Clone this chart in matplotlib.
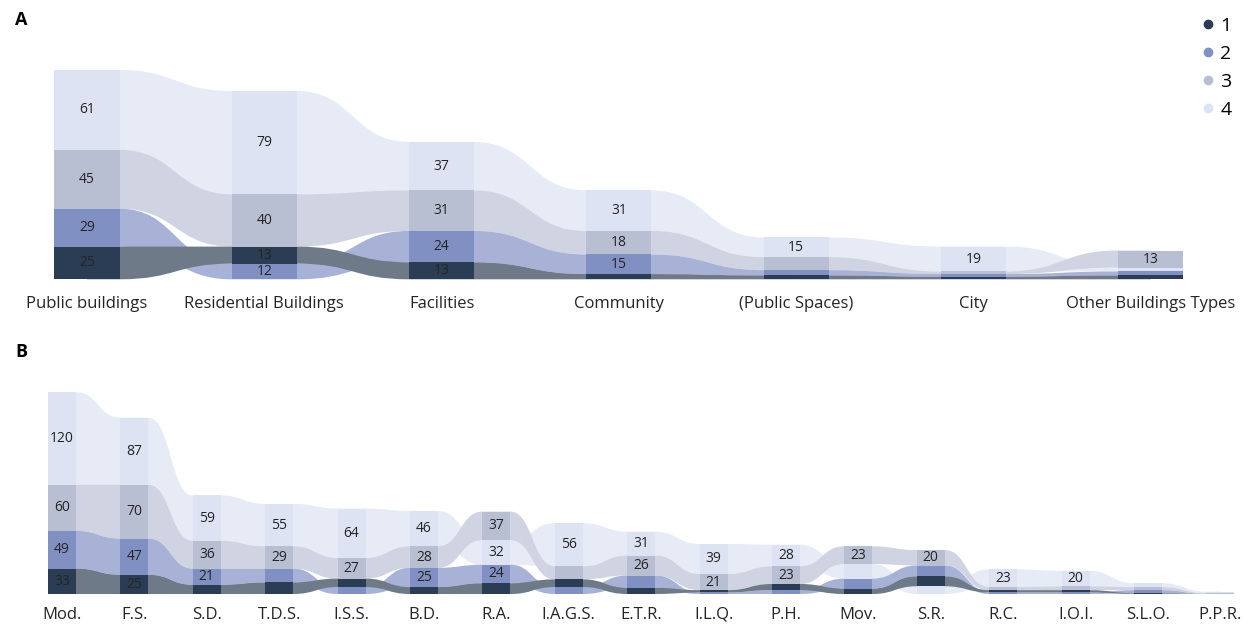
import numpy as np
import matplotlib.pyplot as plt
from matplotlib.path import Path
from matplotlib.patches import PathPatch
from matplotlib.lines import Line2D

plt.rcParams['font.family'] = ['Open Sans', 'DejaVu Sans']

# panel A: building types
cats_a = ['Public buildings', 'Residential Buildings', 'Facilities', 'Community',
          '(Public Spaces)', 'City', 'Other Buildings Types']
a1 = [25, 13, 13, 4, 3, 2, 3]
a2 = [29, 12, 24, 15, 4, 2, 3]
a3 = [45, 40, 31, 18, 10, 2, 13]
a4 = [61, 79, 37, 31, 15, 19, 3]

# panel B: abbreviations
cats_b = ['Mod.', 'F.S.', 'S.D.', 'T.D.S.', 'I.S.S.', 'B.D.', 'R.A.', 'I.A.G.S.', 'E.T.R.',
          'I.L.Q.', 'P.H.', 'Mov.', 'S.R.', 'R.C.', 'I.O.I.', 'S.L.O.', 'P.P.R.']
b1 = [33, 25, 12, 15, 11, 9, 14, 10, 8, 3, 8, 7, 13, 3, 3, 1, 0]
b2 = [49, 47, 21, 18, 9, 25, 24, 9, 16, 2, 5, 13, 14, 2, 2, 4, 0]
b3 = [60, 70, 36, 29, 27, 28, 37, 17, 26, 21, 23, 23, 20, 4, 5, 4, 1]
b4 = [120, 87, 59, 55, 64, 46, 32, 56, 31, 39, 28, 19, 10, 23, 20, 5, 2]

series_names = ['1', '2', '3', '4']
col_colors = ['#2b3d55', '#8190c3', '#b9bfd2', '#dde3f3']
rib_colors = ['#6e7a87', '#a7b2d6', '#cfd3e2', '#e7ebf6']
text_color = '#252423'


def stack_by_rank(series):
    # smallest value at the bottom of each column, biggest on top
    vals = np.array(series, dtype=float)
    n_s, n_c = vals.shape
    bottoms = np.zeros_like(vals)
    for j in range(n_c):
        order = sorted(range(n_s), key=lambda k: (vals[k, j], k))
        acc = 0
        for k in order:
            bottoms[k, j] = acc
            acc += vals[k, j]
    return vals, bottoms


def ribbon_chart(ax, cats, series, width, label_offset):
    vals, bottoms = stack_by_rank(series)
    tops = bottoms + vals
    n = len(cats)

    # ribbons, lightest first so the darker ones end up on top.
    # they start under the columns so no seam shows at the column edges
    for k in reversed(range(len(series))):
        for j in range(n - 1):
            x0 = j + width / 2
            x1 = j + 1 - width / 2
            xm = (x0 + x1) / 2
            b0, b1 = bottoms[k, j], bottoms[k, j + 1]
            t0, t1 = tops[k, j], tops[k, j + 1]
            verts = [(j, b0), (x0, b0), (xm, b0), (xm, b1), (x1, b1), (j + 1, b1),
                     (j + 1, t1), (x1, t1), (xm, t1), (xm, t0), (x0, t0), (j, t0), (j, b0)]
            codes = [Path.MOVETO, Path.LINETO, Path.CURVE4, Path.CURVE4, Path.CURVE4, Path.LINETO,
                     Path.LINETO, Path.LINETO, Path.CURVE4, Path.CURVE4, Path.CURVE4, Path.LINETO,
                     Path.CLOSEPOLY]
            ax.add_patch(PathPatch(Path(verts, codes), facecolor=rib_colors[k],
                                   edgecolor='none', lw=0, zorder=1))

    # columns + value labels (only where the segment is tall enough)
    x = np.arange(n)
    px = ax.transData.transform((0, 1))[1] - ax.transData.transform((0, 0))[1]
    for k in range(len(series)):
        ax.bar(x, vals[k], width, bottom=bottoms[k], color=col_colors[k],
               linewidth=0, zorder=3)
        for j in range(n):
            if vals[k, j] * px >= 15:
                ax.text(j, bottoms[k, j] + vals[k, j] / 2, f'{int(vals[k, j])}',
                        ha='center', va='center', fontsize=10, color=text_color, zorder=4)

    for j, c in enumerate(cats):
        ax.annotate(c, (j, 0), xytext=(0, -label_offset), textcoords='offset points',
                    ha='center', va='center', fontsize=12, color=text_color)


fig = plt.figure(figsize=(12.48, 6.32), dpi=100)

ax_a = fig.add_axes([0, 1 - 320 / 632, 1, 320 / 632])
ax_a.set_xlim(-87 / 177.3, (1248 - 87) / 177.3)
ax_a.set_ylim(-(320 - 279.3) / 1.308, 279.3 / 1.308)
ax_a.axis('off')
ribbon_chart(ax_a, cats_a, [a1, a2, a3, a4], 0.367, 18)

ax_b = fig.add_axes([0, 0, 1, 310 / 632])
ax_b.set_xlim(-62 / 72.4, (1248 - 62) / 72.4)
ax_b.set_ylim(-38 / 0.77, (594 - 322) / 0.77)
ax_b.axis('off')
ribbon_chart(ax_b, cats_b, [b1, b2, b3, b4], 0.387, 15)

fig.text(15 / 1248, 1 - 20 / 632, 'A', fontsize=13, fontweight='bold', va='center', ha='left')
fig.text(15 / 1248, 1 - 352 / 632, 'B', fontsize=13, fontweight='bold', va='center', ha='left')

handles = [Line2D([], [], marker='o', ls='none', markersize=6, color=c) for c in col_colors]
fig.legend(handles, series_names, loc='upper left', bbox_to_anchor=(1202 / 1248, 1 - 17 / 632),
           frameon=False, fontsize=14, handlelength=0.6, handletextpad=0.35,
           labelspacing=0.51, borderpad=0, borderaxespad=0)

fig.savefig('out.png', dpi=100)
